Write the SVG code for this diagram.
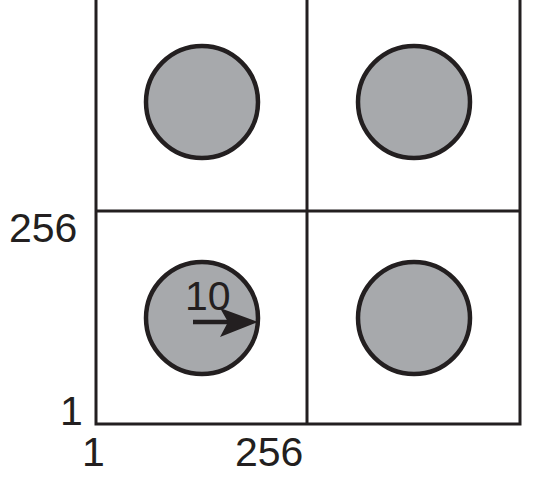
<svg xmlns="http://www.w3.org/2000/svg" width="533" height="479" viewBox="0 0 533 479">
<style>
.grid{stroke:#231f20;stroke-width:3;fill:none}
.dot{fill:#a7a9ac;stroke:#231f20;stroke-width:4.5}
.lbl{font-family:"Liberation Sans",Arial,sans-serif;font-size:41px;fill:#231f20}
</style>
<rect width="533" height="479" fill="#fff"/>
<g id="grid">
<path class="grid" d="M96,0V424H520V0M307,0V424M96,211H520"/>
</g>
<g id="c1"><circle class="dot" cx="202" cy="102" r="56"/></g>
<g id="c2"><circle class="dot" cx="414" cy="102" r="56"/></g>
<g id="c3"><circle class="dot" cx="202" cy="318" r="56"/></g>
<g id="c4"><circle class="dot" cx="414" cy="318" r="56"/></g>
<g id="connectors">
<line x1="193" y1="322" x2="235" y2="322" stroke="#231f20" stroke-width="4.5"/>
<polygon points="258,322 220,308 228,322 220,337" fill="#231f20"/>
</g>
<g id="labels">
<text class="lbl" x="185" y="310">10</text>
<text class="lbl" x="9" y="242">256</text>
<text class="lbl" x="60" y="425">1</text>
<text class="lbl" x="82" y="466">1</text>
<text class="lbl" x="235" y="466">256</text>
</g>
</svg>
